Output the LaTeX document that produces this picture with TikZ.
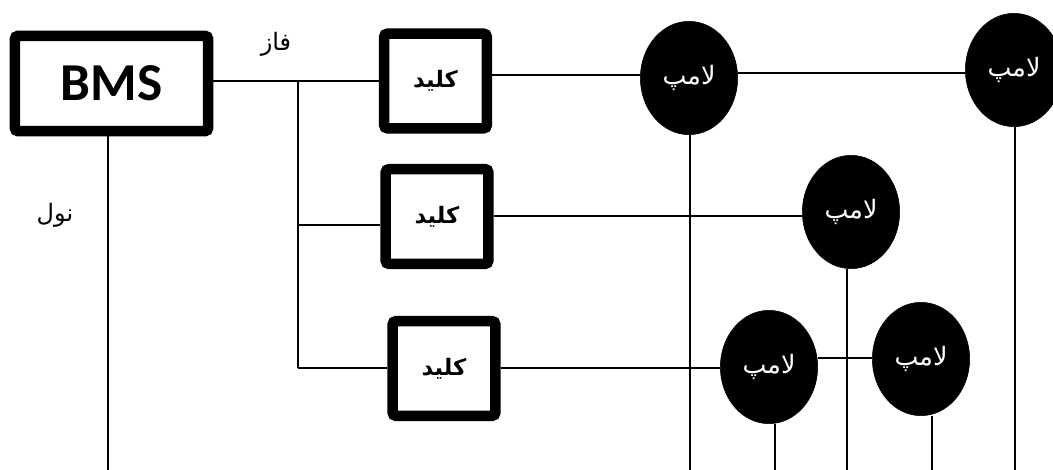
\documentclass[tikz,border=0pt]{standalone}
\usepackage{fontspec}
\setmainfont{Liberation Serif}
\newfontfamily\latinbold[BoldFont=Carlito Bold]{Carlito}
\TeXXeTstate=1
\newfontfamily\arabicfont[Script=Arabic]{DejaVu Sans}
\newcommand{\fa}[1]{{\arabicfont\beginR #1\endR}}
\usetikzlibrary{shapes.geometric}
\tikzset{
 box/.style={draw=black,line width=7.9pt,fill=white,rounded corners=2.5pt,inner sep=0pt,font=\arabicfont\bfseries\fontsize{17}{17}\selectfont},
 keybox/.style={box,minimum width=77pt,minimum height=71pt},
 lamp/.style={ellipse,draw=black,fill=black,text=white,inner sep=0pt,minimum width=73pt,minimum height=85pt,font=\arabicfont\fontsize{19}{19}\selectfont},
 wire/.style={draw=black,line width=1.2pt},
 lbl/.style={font=\arabicfont\fontsize{18}{18}\selectfont,inner sep=0pt}
}
\begin{document}
\begin{tikzpicture}[x=0.75pt,y=-0.75pt]
\useasboundingbox (0,0) rectangle (1053,470);
\path[fill=white] (0,0) rectangle (1053,470);
% wire levels
\coordinate (ya) at (0,81);
\coordinate (yb) at (0,75);
\coordinate (yc) at (0,73);
\coordinate (yd) at (0,225);
\coordinate (ye) at (0,216);
\coordinate (yf) at (0,368);
\coordinate (yg) at (0,358);
\coordinate (j1) at (298,81);
\coordinate (j2) at (298,225);
\coordinate (j3) at (298,368);
\coordinate (bn) at (108,470);
\coordinate (e1) at (690,470);
\coordinate (e2) at (1015,470);
\coordinate (e3) at (847,470);
\coordinate (e4) at (775,470);
\coordinate (e5) at (932,470);
\node[box,minimum width=145pt,minimum height=71.5pt] (bms) at (111.5,83.5) {};
\node[keybox] (k1) at (435.5,81) {\fa{کلید}};
\node[keybox] (k2) at (437,216.5) {\fa{کلید}};
\node[keybox] (k3) at (444,368.5) {\fa{کلید}};
\node[inner sep=0pt] (bt) at (bms.center) {\latinbold\bfseries\fontsize{40}{40}\selectfont BMS};
\node[lamp] (l1) at (689,78) {\fa{لامپ}};
\node[lamp] (l2) at (1014,70) {\fa{لامپ}};
\node[lamp] (l3) at (851,212) {\fa{لامپ}};
\node[lamp] (l4) at (769,367) {\fa{لامپ}};
\node[lamp] (l5) at (921,359) {\fa{لامپ}};
\node[lbl] (t1) at (276,44) {\fa{فاز}};
\node[lbl] (t2) at (55,215) {\fa{نول}};
\draw[wire] (bms.east |- ya) -- (k1.west |- ya);
\draw[wire] (k1.east |- yb) -- (l1.west |- yb);
\draw[wire] (l1.east |- yc) -- (l2.west |- yc);
\draw[wire] (j1) -- (j3);
\draw[wire] (j2) -- (k2.west |- j2);
\draw[wire] (j3) -- (k3.west |- j3);
\draw[wire] (k2.east |- ye) -- (l3.west |- ye);
\draw[wire] (k3.east |- j3) -- (l4.west |- j3);
\draw[wire] (l4.east |- yg) -- (l5.west |- yg);
\draw[wire] (bn) -- (bn |- bms.south);
\draw[wire] (e1) -- (e1 |- l1.south);
\draw[wire] (e2) -- (e2 |- l2.south);
\draw[wire] (e3) -- (e3 |- l3.south);
\draw[wire] (e4) -- (e4 |- l4.south);
\draw[wire] (e5) -- (e5 |- l5.south);
\end{tikzpicture}
\end{document}
